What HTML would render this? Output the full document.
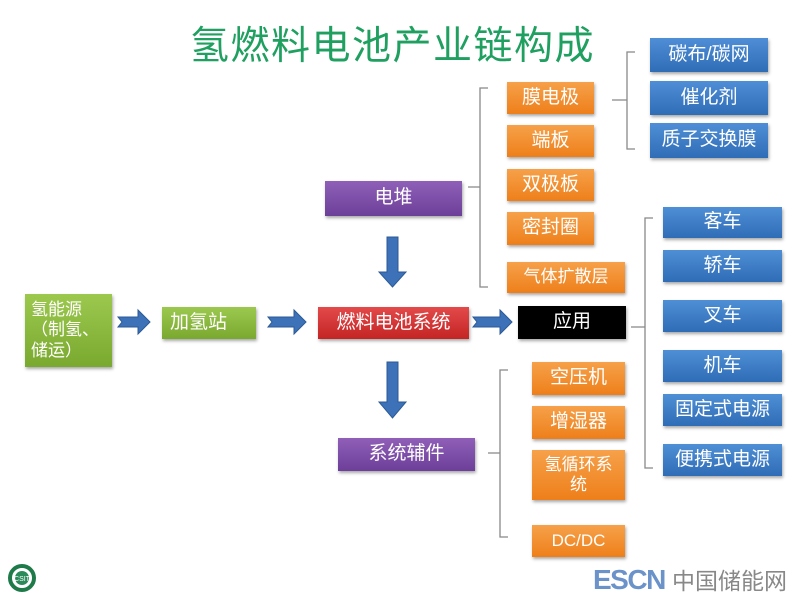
<!DOCTYPE html>
<html><head><meta charset="utf-8"><style>
body{margin:0;width:800px;height:600px;background:#fff;position:relative;overflow:hidden;font-family:"Liberation Sans","Noto Sans CJK SC",sans-serif}
.b{position:absolute;color:#fff;display:flex;align-items:center;justify-content:center;text-align:center;font-size:19px;box-shadow:1px 2px 3px rgba(0,0,0,.35);line-height:1.2}
.o{background:linear-gradient(#f6a14a,#ee7f1a)}
.bl{background:linear-gradient(#4f8fd6,#2f6db6)}
.p{background:linear-gradient(#9060b8,#6c3f98)}
.g{background:linear-gradient(#9cc84e,#7aa930)}
.r{background:linear-gradient(#e44a4a,#c42424)}
.k{background:#000}
</style></head><body>
<div style="position:absolute;left:190px;top:15px;font-size:39px;color:#1fa060;letter-spacing:1.5px;font-family:'Noto Sans CJK SC',sans-serif">氢燃料电池产业链构成</div>

<div class="b bl" style="left:650px;top:38px;width:118px;height:34px">碳布/碳网</div>
<div class="b bl" style="left:650px;top:81px;width:118px;height:34px">催化剂</div>
<div class="b bl" style="left:650px;top:123px;width:118px;height:35px">质子交换膜</div>

<div class="b o" style="left:507px;top:82px;width:87px;height:32px">膜电极</div>
<div class="b o" style="left:507px;top:125px;width:87px;height:32px">端板</div>
<div class="b o" style="left:507px;top:169px;width:87px;height:32px">双极板</div>
<div class="b o" style="left:507px;top:212px;width:87px;height:33px">密封圈</div>
<div class="b o" style="left:507px;top:262px;width:118px;height:31px;font-size:17px">气体扩散层</div>

<div class="b p" style="left:325px;top:181px;width:137px;height:35px">电堆</div>
<div class="b p" style="left:338px;top:438px;width:137px;height:33px">系统辅件</div>

<div class="b bl" style="left:663px;top:207px;width:119px;height:31px">客车</div>
<div class="b bl" style="left:663px;top:250px;width:119px;height:32px">轿车</div>
<div class="b bl" style="left:663px;top:300px;width:119px;height:32px">叉车</div>
<div class="b bl" style="left:663px;top:350px;width:119px;height:32px">机车</div>
<div class="b bl" style="left:663px;top:394px;width:119px;height:32px">固定式电源</div>
<div class="b bl" style="left:663px;top:444px;width:119px;height:32px">便携式电源</div>

<div class="b g" style="left:25px;top:294px;width:87px;height:73px;font-size:17px;justify-content:flex-start;text-align:left;padding-left:6px;box-sizing:border-box">氢能源<br>（制氢、<br>储运）</div>
<div class="b g" style="left:162px;top:307px;width:94px;height:32px;justify-content:flex-start;padding-left:8px;box-sizing:border-box">加氢站</div>
<div class="b r" style="left:318px;top:307px;width:151px;height:32px">燃料电池系统</div>
<div class="b k" style="left:518px;top:306px;width:108px;height:33px">应用</div>

<div class="b o" style="left:532px;top:362px;width:93px;height:33px">空压机</div>
<div class="b o" style="left:532px;top:406px;width:93px;height:33px">增湿器</div>
<div class="b o" style="left:532px;top:450px;width:93px;height:50px;font-size:17px">氢循环系<br>统</div>
<div class="b o" style="left:532px;top:525px;width:93px;height:32px;font-size:17px">DC/DC</div>

<svg width="800" height="600" style="position:absolute;left:0;top:0">
<g fill="none" stroke="#888" stroke-width="1.3">
<path d="M488 88 H480 V287 H488 M480 187 H468"/>
<path d="M635 52 H627 V149 H635 M627 100 H612"/>
<path d="M653 218 H645 V468 H653 M645 327 H631"/>
<path d="M508 370 H500 V537 H508 M500 453 H488"/>
</g>
<g fill="#3d72b8" stroke="#2c5a96" stroke-width="1">
<path d="M118 317 H138 V310 L150 322 L138 334 V327 H118 L122 322 Z"/>
<path d="M268 317 H294 V310 L306 322 L294 334 V327 H268 L272 322 Z"/>
<path d="M473 317 H500 V310 L512 322 L500 334 V327 H473 L477 322 Z"/>
<path d="M387 237 H398 V272 H406 L392.5 287 L379 272 H387 Z"/>
<path d="M387 362 H398 V402 H406 L392.5 418 L379 402 H387 Z"/>
</g>
<circle cx="22" cy="578" r="12" fill="#fff" stroke="#1f7a4a" stroke-width="4"/>
<circle cx="22" cy="578" r="7" fill="#2a8a5a"/>
<text x="22" y="581" font-size="7" fill="#fff" text-anchor="middle" font-family="Liberation Sans">CSIT</text>
</svg>
<div style="position:absolute;left:593px;top:564px;font-size:28px;font-weight:bold;color:#6b93c9;letter-spacing:-1.5px;font-family:'Liberation Sans',sans-serif">ESCN</div>
<div style="position:absolute;left:672px;top:564px;font-size:23px;color:#888;font-family:'Noto Sans CJK SC',sans-serif;line-height:30px">中国储能网</div>
</body></html>
